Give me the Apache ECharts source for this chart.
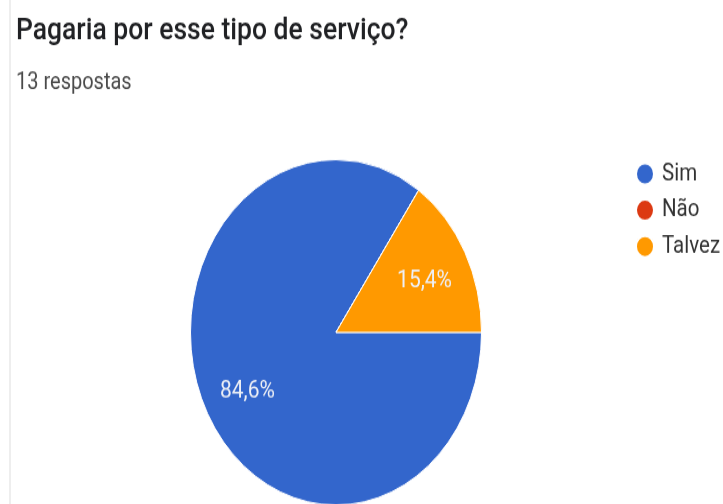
<!DOCTYPE html>
<html>
<head>
<meta charset="utf-8">
<script src="https://cdn.jsdelivr.net/npm/echarts@6/dist/echarts.min.js"></script>
<style>
  html, body { margin: 0; padding: 0; background: #fff; overflow: hidden; }
  #wrap { width: 723px; height: 504px; overflow: hidden; position: relative; }
  #chart {
    width: 723px; height: 425px;
    transform: scaleY(1.187); transform-origin: 0 0;
  }
  #edge { position: absolute; left: 9px; top: 0; width: 2px; height: 504px; background: #eeeeee; }
</style>
</head>
<body>
<div id="wrap"><div id="chart"></div><div id="edge"></div></div>
<script>
const categories = ['Sim', 'Não', 'Talvez'];
const counts = [11, 0, 2];
const colors = ['#3366cc', '#dc3912', '#ff9900'];
const titleText = 'Pagaria por esse tipo de serviço?';
const subtitleText = '13 respostas';

const total = counts.reduce((a, b) => a + b, 0);
const pieData = categories.map((name, i) => ({ name, value: counts[i] }));
const pct = v => (v / total * 100).toFixed(1).replace('.', ',') + '%';

const chart = echarts.init(document.getElementById('chart'));
chart.setOption({
  animation: false,
  color: colors,
  title: [
    { text: titleText, left: 11, top: 8,
      textStyle: { fontFamily: 'Roboto', fontWeight: 500, fontSize: 26.5, color: '#202124' } },
    { text: subtitleText, left: 11, top: 55,
      textStyle: { fontFamily: 'Roboto', fontWeight: 400, fontSize: 20, color: '#4a4a4a' } }
  ],
  legend: {
    orient: 'vertical', left: 630, top: 131,
    icon: 'circle', itemWidth: 18, itemHeight: 18, itemGap: 9.6,
    textStyle: { fontFamily: 'Roboto', fontSize: 20.5, color: '#333', padding: [0, 0, 0, 3] },
    data: categories
  },
  series: [
    {
      type: 'pie', center: [336, 280], radius: 145.5,
      startAngle: 0, clockwise: true,
      itemStyle: { borderColor: '#fff', borderWidth: 1 },
      label: { show: false }, labelLine: { show: false },
      emphasis: { disabled: true },
      data: pieData
    },
    {
      // transparent ring that carries the percentage labels at ~2/3 radius
      type: 'pie', center: [336, 280], radius: [65, 129],
      startAngle: 0, clockwise: true, silent: true,
      itemStyle: { color: 'rgba(0,0,0,0)' },
      label: {
        position: 'inside', color: '#eef0f6', offset: [0, 3.5],
        fontFamily: 'Roboto', fontSize: 21,
        formatter: p => p.value > 0 ? pct(p.value) : ''
      },
      labelLine: { show: false },
      emphasis: { disabled: true },
      data: pieData
    }
  ]
});
</script>
</body>
</html>
